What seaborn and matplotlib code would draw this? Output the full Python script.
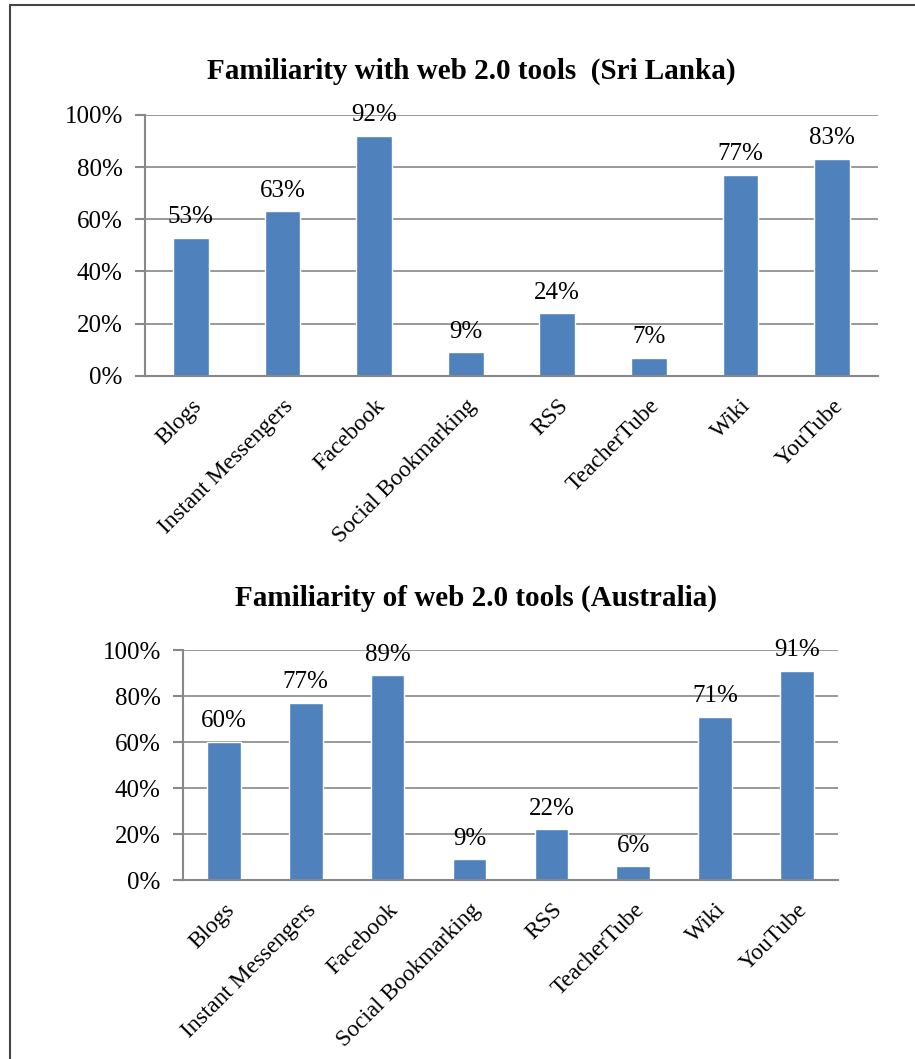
import numpy as np
import pandas as pd
import matplotlib
matplotlib.use("Agg")
import matplotlib.pyplot as plt
import matplotlib.transforms as mtransforms
import seaborn as sns

# data
tools = ["Blogs", "Instant Messengers", "Facebook", "Social Bookmarking",
         "RSS", "TeacherTube", "Wiki", "YouTube"]
sri_lanka = [53, 63, 92, 9, 24, 7, 77, 83]
australia = [60, 77, 89, 9, 22, 6, 71, 91]

title_sl = "Familiarity with web 2.0 tools  (Sri Lanka)"
title_au = "Familiarity of web 2.0 tools (Australia)"

sns.set_style("white")
plt.rcParams['font.family'] = ['Liberation Serif', 'DejaVu Serif']
plt.rcParams['text.color'] = 'black'
plt.rcParams['xtick.color'] = 'black'
plt.rcParams['ytick.color'] = 'black'

bar_color = "#4F81BD"
axis_gray = "#888888"

fig = plt.figure(figsize=(9.15, 10.59), dpi=100)

# frame around the figure (only left/top visible in reference)
fig.add_artist(plt.Line2D([0.011, 0.011], [0.0, 0.995], color="#444444", lw=1.5))
fig.add_artist(plt.Line2D([0.011, 1.0], [0.995, 0.995], color="#444444", lw=1.5))


def draw(ax, values, title, width, title_pad, title_x):
    df = pd.DataFrame({"tool": tools, "pct": values})
    sns.barplot(data=df, x="tool", y="pct", color=bar_color, saturation=1,
                width=width, ax=ax)
    ax.set_ylim(0, 100)
    ax.set_xlim(-0.5, len(tools) - 0.5)
    ax.set_yticks([0, 20, 40, 60, 80, 100])
    ax.set_yticklabels([f"{v}%" for v in [0, 20, 40, 60, 80, 100]], fontsize=18)
    ax.set_xticks(range(len(tools)))
    ax.set_xticklabels(tools, rotation=45, ha="right", rotation_mode="anchor",
                       fontsize=16.8)
    # nudge rotated labels a little to the left
    shift = mtransforms.ScaledTranslation(-4 / 100, 0, fig.dpi_scale_trans)
    for lab in ax.get_xticklabels():
        lab.set_transform(lab.get_transform() + shift)
    ax.set_xticks(np.arange(-0.5, len(tools)), minor=True)
    ax.tick_params(axis="x", which="major", length=0, pad=14)
    ax.tick_params(axis="x", which="minor", length=6, color=axis_gray, width=1.5,
                   direction="out")
    ax.tick_params(axis="y", length=7, color=axis_gray, labelcolor="black",
                   width=1.5, direction="out", left=True, pad=9)
    ax.yaxis.grid(True, color=axis_gray, lw=1.2)
    ax.set_axisbelow(True)
    for s in ["top", "right"]:
        ax.spines[s].set_visible(False)
    for s in ["left", "bottom"]:
        ax.spines[s].set_color(axis_gray)
        ax.spines[s].set_linewidth(1.5)
    ax.set_xlabel("")
    ax.set_ylabel("")
    ax.bar_label(ax.containers[0], fmt="%d%%", fontsize=18, padding=7,
                 color="black")
    ax.set_title(title, fontsize=21, fontweight="bold", pad=title_pad,
                 color="black", x=title_x)


ax1 = fig.add_axes([0.1585, 0.645, 0.801, 0.2466])
draw(ax1, sri_lanka, title_sl, 0.39, 26, 0.445)

ax2 = fig.add_axes([0.2, 0.169, 0.7158, 0.2172])
draw(ax2, australia, title_au, 0.41, 32, 0.447)

fig.savefig("out.png", dpi=100)
